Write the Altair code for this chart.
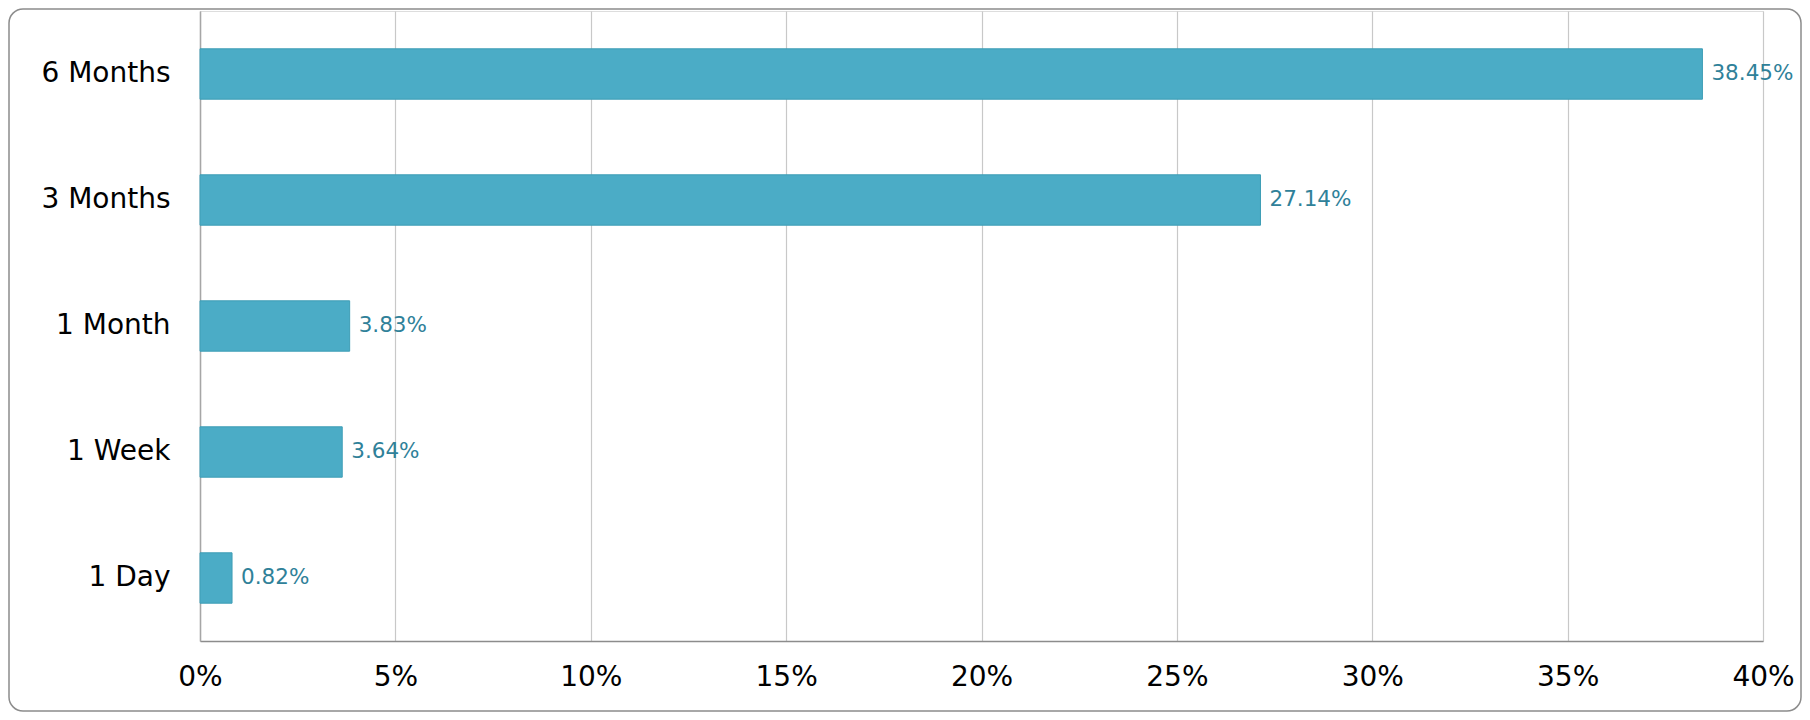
import altair as alt
import pandas as pd

categories = ["6 Months", "3 Months", "1 Month", "1 Week", "1 Day"]
values = [0.3845, 0.2714, 0.0383, 0.0364, 0.0082]
x_ticks = [0, 0.05, 0.10, 0.15, 0.20, 0.25, 0.30, 0.35, 0.40]

df = pd.DataFrame({"cat": categories, "val": values})
frame_df = pd.DataFrame({"k": [1]})

W, H = 1563, 630
PL, PT, PR, PB = 192, 3, 39, 71

y_enc = alt.Y("cat:N", sort=categories,
              scale=alt.Scale(paddingInner=0.6, paddingOuter=0.3),
              axis=alt.Axis(title=None, labelFontSize=28, labelFont="DejaVu Sans",
                            labelColor="#000000", labelPadding=30, ticks=False,
                            domainColor="#A6A6A6", domainWidth=1.5, grid=False))
x_enc = alt.X("val:Q",
              scale=alt.Scale(domain=[0, 0.4], nice=False),
              axis=alt.Axis(title=None, format=".0%", values=x_ticks,
                            labelFontSize=28, labelFont="DejaVu Sans", labelFlush=False,
                            labelColor="#000000", labelPadding=22, ticks=False,
                            domainColor="#8C8C8C", domainWidth=1.5,
                            gridColor="#C8C8C8", gridWidth=1.2))

bars = alt.Chart(df).mark_bar(color="#4BACC6", stroke="#3E9DB6", strokeWidth=1).encode(
    x=x_enc, y=y_enc)

labels = alt.Chart(df).mark_text(align="left", baseline="middle", dx=9,
                                 font="DejaVu Sans", fontSize=21.5, color="#2F8199").encode(
    x="val:Q", y=alt.Y("cat:N", sort=categories),
    text=alt.Text("val:Q", format=".2%"))

frame = alt.Chart(frame_df).mark_rect(fill="transparent", stroke="#8C8C8C", strokeWidth=1.5,
                                      cornerRadius=14).encode(
    x=alt.value(-PL + 1), x2=alt.value(W + PR - 1),
    y=alt.value(-PT + 1), y2=alt.value(H + PB - 1))

chart = alt.layer(bars, labels, frame).properties(
    width=W, height=H,
    autosize=alt.AutoSizeParams(type="none"),
    padding={"left": PL, "top": PT, "right": PR, "bottom": PB},
).configure_view(stroke=None).configure(background="white")

chart.save("out.html", embed_options={"renderer": "svg", "actions": False})
